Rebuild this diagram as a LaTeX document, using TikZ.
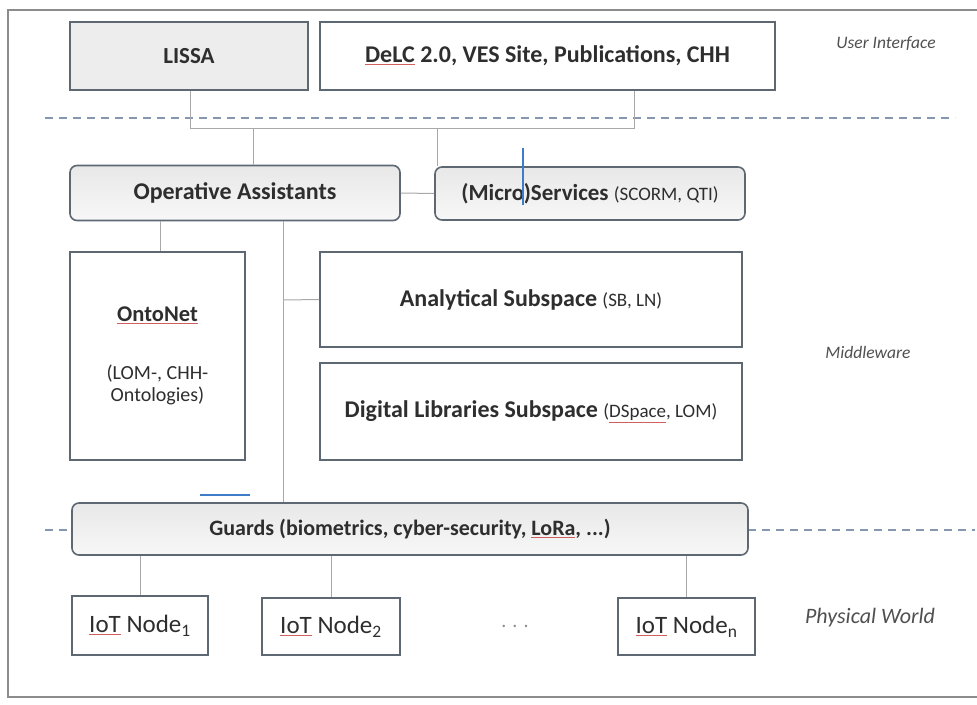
\documentclass[tikz,border=0pt]{standalone}
\usepackage{fontspec}
\setmainfont{Carlito}
\usetikzlibrary{positioning}
\definecolor{boxline}{HTML}{5E6873}
\definecolor{conn}{HTML}{A8A8A8}
\definecolor{dashc}{HTML}{8598B0}
\definecolor{labc}{HTML}{505050}
\definecolor{artblue}{HTML}{3F7CC8}
\definecolor{spell}{HTML}{D06060}
\newcommand\spellul[1]{\textcolor{spell}{\underline{\textcolor{black!82}{#1}}}}
\newcommand\smallpart[1]{{\mdseries\fontsize{19}{22}\selectfont #1}}
\tikzset{
  sqbox/.style={draw=boxline, line width=1.6pt, fill=white, text=black!82, align=center, font=\fontsize{24}{28}\selectfont\bfseries},
  grbox/.style={sqbox, fill=black!7},
  rdbox/.style={sqbox, rounded corners=7pt, top color=black!9, bottom color=black!3},
  iotbox/.style={draw=boxline, line width=1.6pt, fill=white, text=black!82, font=\fontsize{25}{28}\selectfont},
  layer/.style={text=labc, font=\fontsize{17.5}{20}\selectfont\itshape},
  link/.style={draw=conn, line width=1pt},
  sep/.style={draw=dashc, line width=2pt, dash pattern=on 8pt off 6pt},
  art/.style={draw=artblue, line width=1.2pt}
}
\begin{document}
\begin{tikzpicture}[x=1pt,y=-1pt]
\useasboundingbox (0,0) rectangle (977,704);
\fill[white] (0,0) rectangle (977,704);
% outer frame
\draw[black!45, line width=1.5pt] (977,10) -- (8,10) -- (8,697) -- (977,697);

% dashed layer separators
\draw[sep] (45,118) -- (955,118);
\draw[sep] (45,530) -- (72,530);
\draw[sep] (748,530) -- (975,530);

% top layer
\node[grbox, minimum width=238pt, minimum height=68pt, font=\fontsize{23}{26}\selectfont\bfseries] (lissa) at (189,56) {LISSA};
\node[sqbox, minimum width=455pt, minimum height=68pt] (delc) at (547.5,56) {\spellul{DeLC} 2.0, VES Site, Publications, CHH};
\node[layer] (ui) at (886,44) {User Interface};

% middleware
\node[rdbox, minimum width=330pt, minimum height=55pt] (oa) at (235,193) {Operative Assistants};
\node[rdbox, minimum width=310pt, minimum height=53pt, font=\fontsize{23}{26}\selectfont\bfseries] (ms) at (590,193.5) {(Micro)Services \smallpart{(SCORM, QTI)}};
\node[sqbox, minimum width=175pt, minimum height=208pt, font=\fontsize{20}{22}\selectfont] (onto) at (157.5,356)
  {{\fontsize{22.5}{24}\selectfont\bfseries\spellul{OntoNet}}\\[36pt](LOM-, CHH-\\Ontologies)};
\node[sqbox, minimum width=422pt, minimum height=95pt] (ana) at (531,299.5) {Analytical Subspace \smallpart{(SB, LN)}};
\node[sqbox, minimum width=422pt, minimum height=97pt] (dl) at (531,411.5) {Digital Libraries Subspace \smallpart{(\spellul{DSpace}, LOM)}};
\node[layer] (mw) at (868,352) {Middleware};

% guards
\node[rdbox, minimum width=676pt, minimum height=52pt, font=\fontsize{22}{26}\selectfont\bfseries] (guards) at (410,529) {Guards (biometrics, cyber-security, \spellul{LoRa}, ...)};

% physical world
\node[iotbox, minimum width=136pt, minimum height=59pt] (iot1) at (140,625.5) {\spellul{IoT} Node\textsubscript{1}};
\node[iotbox, minimum width=138pt, minimum height=57pt] (iot2) at (331,626.5) {\spellul{IoT} Node\textsubscript{2}};
\node[iotbox, minimum width=137pt, minimum height=57pt] (iotn) at (686.5,626.5) {\spellul{IoT} Node\textsubscript{n}};
\node[text=black!45, font=\fontsize{20}{22}\selectfont] (dots) at (515,626) {. . .};
\node[layer, font=\fontsize{22}{24}\selectfont\itshape] (pw) at (870,618) {Physical World};

% connectors
\coordinate (ja) at (190,128);
\coordinate (jb) at (634,128);
\coordinate (jc) at (253,128);
\coordinate (jd) at (437,128);
\coordinate (je) at (283,300);
\draw[link] (lissa.south -| ja) -- (ja) -- (jb) -- (delc.south -| jb);
\draw[link] (jc) -- (oa.north -| jc);
\draw[link] (jd) -- (ms.north -| jd);
\draw[link] (oa.east) -- (ms.west);
\draw[link] (oa.south -| 160,0) -- (onto.north -| 160,0);
\draw[link] (oa.south -| je) -- (guards.north -| je);
\draw[link] (je) -- (ana.west);
\draw[link] (guards.south -| iot1.north) -- (iot1.north);
\draw[link] (guards.south -| iot2.north) -- (iot2.north);
\draw[link] (guards.south -| iotn.north) -- (iotn.north);

% stray blue marks
\coordinate (ba) at (523,148);
\coordinate (bb) at (523,205);
\coordinate (bc) at (200,495);
\coordinate (bd) at (250,495);
\draw[art] (ba) -- (bb);
\draw[art] (bc) -- (bd);
\end{tikzpicture}
\end{document}
